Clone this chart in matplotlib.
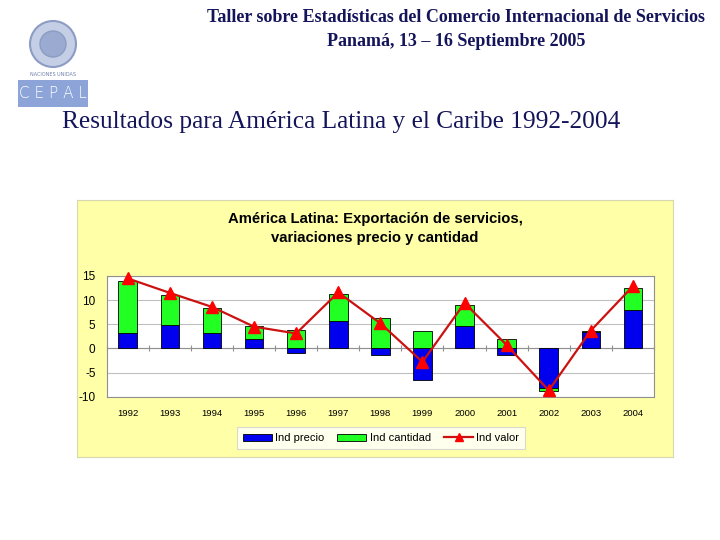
import matplotlib
matplotlib.use("Agg")
import matplotlib.pyplot as plt
import numpy as np
from matplotlib.patches import Rectangle, Circle
from matplotlib.lines import Line2D
from matplotlib.patches import Patch

years = ["1992", "1993", "1994", "1995", "1996", "1997", "1998",
         "1999", "2000", "2001", "2002", "2003", "2004"]
ind_precio = [3.1, 4.9, 3.1, 1.9, -1.0, 5.6, -1.3, -6.5, 4.7, -1.3, -8.3, 3.3, 7.9]
ind_cantidad = [10.9, 6.2, 5.2, 2.7, 3.8, 5.6, 6.2, 3.7, 4.3, 2.0, -0.5, 0.3, 4.6]
ind_valor = [14.5, 11.5, 8.6, 4.5, 3.1, 11.6, 5.2, -2.8, 9.4, 0.7, -8.7, 3.7, 12.9]
yticks = [-10, -5, 0, 5, 10, 15]

BLUE = "#0000EE"
GREEN = "#22FF22"
RED = "#FF0000"
LINE_RED = "#CC1111"
YELLOW = "#FFFFA8"
NAVY = "#14145A"

fig = plt.figure(figsize=(7.2, 5.4), dpi=100)
fig.patch.set_facecolor("white")

# Header texts
fig.text(705 / 720, 1 - 18 / 540, "Taller sobre Estadísticas del Comercio Internacional de Servicios",
         ha="right", va="center", fontsize=13, fontweight="bold",
         family="Liberation Serif", color=NAVY)
fig.text(456 / 720, 1 - 41 / 540, "Panamá, 13 – 16 Septiembre 2005",
         ha="center", va="center", fontsize=13, fontweight="bold",
         family="Liberation Serif", color=NAVY)
fig.text(62 / 720, 1 - 122 / 540, "Resultados para América Latina y el Caribe 1992-2004",
         ha="left", va="center", fontsize=18.3, family="Liberation Serif", color=NAVY)

# Logo
logo_ax = fig.add_axes([0, 1 - 110 / 540, 100 / 720, 110 / 540])
logo_ax.set_xlim(0, 100)
logo_ax.set_ylim(110, 0)
logo_ax.axis("off")
logo_ax.add_patch(Circle((53, 44), 23, facecolor="#C4CEE4", edgecolor="#8C9CC4", lw=1.5))
logo_ax.add_patch(Circle((53, 44), 13, facecolor="#9AAAD0", edgecolor="#8C9CC4", lw=1))
logo_ax.text(53, 75, "NACIONES UNIDAS", fontsize=3.5, color="#7080A8", ha="center", va="center")
logo_ax.add_patch(Rectangle((18, 80), 70, 27, facecolor="#8CA4D8", edgecolor="none"))
logo_ax.text(53, 94, "C E P A L", fontsize=11, color="white", ha="center", va="center",
             family="DejaVu Sans", fontweight="light")

# Chart box (background axes)
bg = fig.add_axes([76.7 / 720, 1 - 457.3 / 540, (672.7 - 76.7) / 720, (457.3 - 200) / 540])
bg.set_facecolor(YELLOW)
bg.set_xticks([])
bg.set_yticks([])
for s in bg.spines.values():
    s.set_color("#D8D8B0")
    s.set_linewidth(0.8)
bg.set_zorder(0)

fig.text(375 / 720, 1 - 219 / 540, "América Latina: Exportación de servicios,",
         ha="center", va="center", fontsize=10.7, fontweight="bold", family="Liberation Sans")
fig.text(375 / 720, 1 - 238 / 540, "variaciones precio y cantidad",
         ha="center", va="center", fontsize=10.7, fontweight="bold", family="Liberation Sans")

ax = fig.add_axes([106.7 / 720, 1 - 396.7 / 540, (654 - 106.7) / 720, (396.7 - 276) / 540])
ax.set_zorder(1)
ax.set_facecolor("white")
x = np.arange(len(years))
p = np.array(ind_precio)
c = np.array(ind_cantidad)
bottom_c = np.where(np.sign(c) == np.sign(p), p, 0)
w = 0.44
ax.bar(x, p, w, color=BLUE, edgecolor="black", lw=0.6, zorder=3, label="Ind precio")
ax.bar(x, c, w, bottom=bottom_c, color=GREEN, edgecolor="black", lw=0.6, zorder=3, label="Ind cantidad")
ax.plot(x, ind_valor, color=LINE_RED, lw=1.6, marker="^", markersize=8,
        markerfacecolor=RED, markeredgecolor=RED, zorder=4, label="Ind valor", clip_on=False)

ax.set_xlim(-0.5, len(years) - 0.5)
ax.set_ylim(-10, 15)
ax.set_yticks(yticks)
ax.set_yticklabels([str(v) for v in yticks], fontsize=8.5, family="Liberation Sans")
ax.tick_params(axis="y", length=0, pad=8)
ax.set_xticks(x)
ax.set_xticklabels(years, fontsize=6.8, family="Liberation Sans")
ax.tick_params(axis="x", length=0, pad=9)
ax.grid(axis="y", color="#C0C0C0", lw=0.8, zorder=0)
ax.axhline(0, color="#909090", lw=0.8, zorder=2)
for s in ax.spines.values():
    s.set_color("#909090")
    s.set_linewidth(0.8)

sec = ax.secondary_xaxis(10 / 25)
sec.set_xticks(np.arange(len(years) + 1) - 0.5)
sec.set_xticklabels([])
sec.tick_params(axis="x", direction="inout", length=4, color="#909090", width=0.8)
sec.spines["bottom"].set_visible(False)
sec.spines["top"].set_visible(False)

handles = [Patch(facecolor=BLUE, edgecolor="black", lw=0.6),
           Patch(facecolor=GREEN, edgecolor="black", lw=0.6),
           Line2D([0], [0], color=LINE_RED, lw=1.6, marker="^", markersize=6,
                  markerfacecolor=RED, markeredgecolor=RED)]
leg = fig.legend(handles, ["Ind precio", "Ind cantidad", "Ind valor"], ncol=3,
                 loc="center", bbox_to_anchor=(381 / 720, 1 - 438 / 540),
                 prop={"family": "Liberation Sans", "size": 8},
                 frameon=True, fancybox=False, edgecolor="#D0D0D0",
                 handlelength=2.6, handleheight=0.6, columnspacing=1.2, handletextpad=0.3,
                 borderpad=0.5)
leg.get_frame().set_linewidth(0.8)
leg.set_zorder(5)

fig.savefig("out.png", dpi=100, facecolor="white")
